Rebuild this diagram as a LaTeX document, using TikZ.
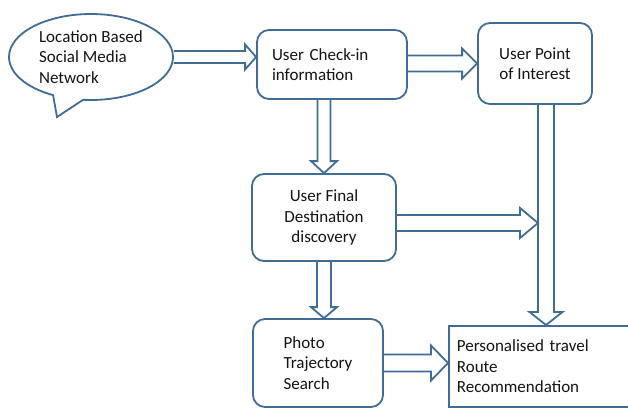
\documentclass[tikz,border=0pt]{standalone}
\usepackage{fontspec}
\setmainfont{Carlito}
\usetikzlibrary{calc,shapes.callouts}
\definecolor{bordc}{RGB}{65,108,150}
\definecolor{txtc}{RGB}{20,20,20}
\newcommand\fs{\fontsize{17}{20.5}\selectfont}
\newcommand\harr[5]{\draw[barrow] let \p1=(#1), \p2=(#2) in
  (\x1,\y2+#3) -- (\x2-#5,\y2+#3) -- (\x2-#5,\y2+#4) -- (\x2,\y2) --
  (\x2-#5,\y2-#4) -- (\x2-#5,\y2-#3) -- (\x1,\y2-#3);}
\newcommand\varr[5]{\draw[barrow] let \p1=(#1), \p2=(#2) in
  (\x2-#3,\y1) -- (\x2-#3,\y2+#5) -- (\x2-#4,\y2+#5) -- (\x2,\y2) --
  (\x2+#4,\y2+#5) -- (\x2+#3,\y2+#5) -- (\x2+#3,\y1);}
\begin{document}
\begin{tikzpicture}[x=1pt,y=-1pt,
  box/.style={draw=bordc, line width=1.8pt, rounded corners=12pt, fill=white,
    font=\fs, text=txtc, inner sep=0pt},
  barrow/.style={draw=bordc, line width=1.8pt, line join=miter}]
\path[use as bounding box, clip] (0,0) rectangle (628,408);
\fill[white] (0,0) rectangle (628,408);
% nodes
\node[ellipse callout, draw=bordc, line width=1.8pt, fill=white, font=\fs, text=txtc,
  inner sep=0pt, minimum width=164pt, minimum height=86pt, align=left,
  callout absolute pointer={(57,117)}, callout pointer arc=22] (lbsn) at (91,57)
  {Location Based\\Social Media\\Network};
\node[box, minimum width=150pt, minimum height=69pt, text width=120pt, inner xsep=15pt,
  align=left] (chk) at (332,64.5) {User Check-in\\information};
\node[box, minimum width=114pt, minimum height=81pt, align=center] (poi) at (535,63.5)
  {User Point\\of Interest};
\node[box, minimum width=144pt, minimum height=87pt, align=center] (fin) at (324,217.5)
  {User Final\\Destination\\discovery};
\node[box, minimum width=130pt, minimum height=88pt, align=left] (pho) at (318,363)
  {Photo\\Trajectory\\Search};
\node[draw=bordc, line width=1.8pt, fill=white, font=\fs, text=txtc, inner sep=0pt,
  anchor=north west, minimum width=200pt, minimum height=81pt, text width=184pt,
  inner xsep=8pt, align=left] (per) at (448,325)
  {Personalised travel\\Route\\Recommendation};
% junction coordinates
\coordinate (pin) at ($(per.north west)+(98,0)$);
\coordinate (jn) at (538,223);
% block arrows
\harr{lbsn.east}{chk.west |- lbsn.east}{6pt}{12.5pt}{11pt}
\harr{chk.east}{poi.west}{8pt}{15pt}{15pt}
\varr{fin.north |- chk.south}{fin.north}{6.5pt}{13pt}{12pt}
\varr{fin.south}{fin.south |- pho.north}{7pt}{13pt}{11pt}
\varr{pin |- poi.south}{pin}{8pt}{16.5pt}{13pt}
\harr{fin.east |- jn}{jn}{8pt}{15pt}{18pt}
\harr{pho.east}{per.west |- pho.east}{8.5pt}{17.5pt}{17pt}
\end{tikzpicture}
\end{document}
